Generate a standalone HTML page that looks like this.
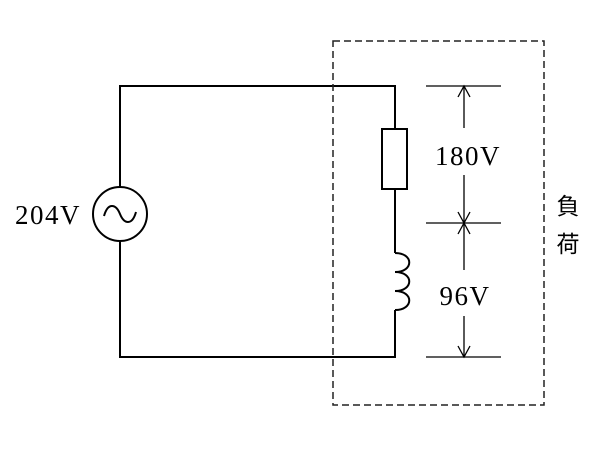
<!DOCTYPE html>
<html><head><style>body{margin:0;background:#fff}</style></head><body>
<svg width="600" height="457" xmlns="http://www.w3.org/2000/svg">
<g fill="none" stroke="#000" stroke-width="2">
<polyline points="120,187 120,86 395,86 395,129"/>
<polyline points="120,241 120,357 395,357 395,310"/>
<line x1="395" y1="189" x2="395" y2="253"/>
<circle cx="120" cy="214" r="27"/>
<path d="M104,216 C108,202 116,204 120,214 C124,224 132,226 136,212"/>
<rect x="382" y="129" width="25" height="60"/>
<path d="M395,253 C414,253 414,272 395,272 C414,272 414,291 395,291 C414,291 414,310 395,310"/>
</g>
<g stroke="#000" stroke-width="1.3" fill="none">
<line x1="426" y1="86" x2="501" y2="86"/>
<line x1="426" y1="223" x2="501" y2="223"/>
<line x1="426" y1="357" x2="501" y2="357"/>
<line x1="464" y1="86" x2="464" y2="128"/>
<line x1="464" y1="175" x2="464" y2="223"/>
<line x1="464" y1="223" x2="464" y2="270"/>
<line x1="464" y1="316" x2="464" y2="357"/>
<polyline points="458,97 464,86 470,97"/>
<polyline points="458,212 464,223 470,212"/>
<polyline points="458,234 464,223 470,234"/>
<polyline points="458,346 464,357 470,346"/>
<rect x="333" y="41" width="211" height="364" stroke-dasharray="7,4" stroke="#222" stroke-width="1.5"/>
</g>
<g font-family="Liberation Serif, serif" font-size="27" fill="#000" letter-spacing="1.5">
<text x="468" y="165" text-anchor="middle">180V</text>
<text x="465" y="305" text-anchor="middle">96V</text>
<text x="15" y="224">204V</text>
</g>
<g font-family="Noto Sans CJK JP, sans-serif" font-size="23" fill="#000" text-anchor="middle">
<text x="568" y="214">負</text>
<text x="568" y="252">荷</text>
</g>
</svg>
</body></html>
